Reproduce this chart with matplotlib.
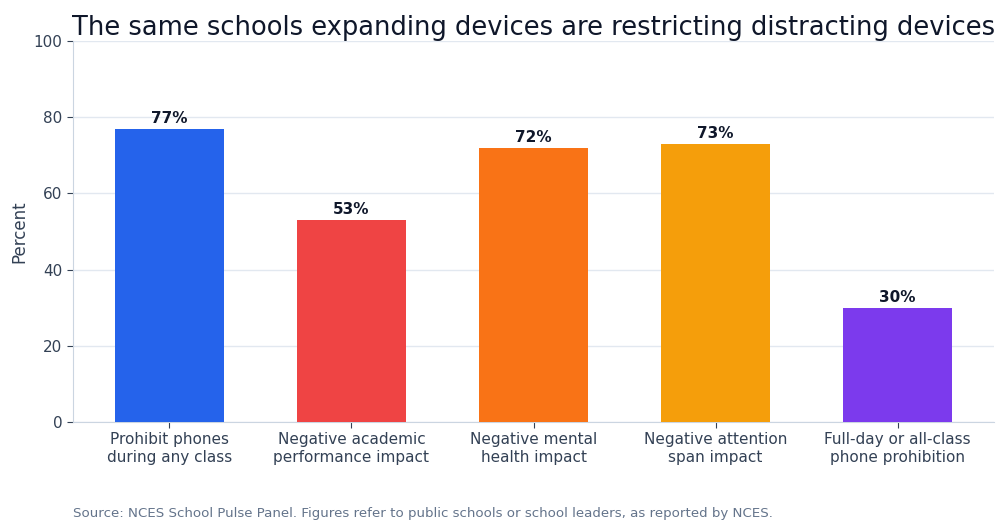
import matplotlib
matplotlib.use("Agg")
from matplotlib import pyplot as plt

categories = [
    "Prohibit phones\nduring any class",
    "Negative academic\nperformance impact",
    "Negative mental\nhealth impact",
    "Negative attention\nspan impact",
    "Full-day or all-class\nphone prohibition",
]
values = [77, 53, 72, 73, 30]
bar_colors = ["#2563eb", "#ef4444", "#f97316", "#f59e0b", "#7c3aed"]
yticks = [0, 20, 40, 60, 80, 100]

fig = plt.figure(figsize=(10.05, 5.32), dpi=100)
ax = fig.add_axes([73 / 1005, 1 - 422 / 532, 921 / 1005, 381 / 532])

x = list(range(len(categories)))
ax.bar(x, values, width=0.6, color=bar_colors, zorder=3)

for xi, v in zip(x, values):
    ax.text(xi, v + 0.8, f"{v}%", ha="center", va="bottom",
            fontsize=11, fontweight="bold", color="#0f172a")

ax.set_xlim(-0.53, 4.53)
ax.set_ylim(0, 100)
ax.set_yticks(yticks)
ax.set_xticks(x, labels=categories)
ax.tick_params(axis="both", labelsize=11, colors="#334155", length=4)
ax.grid(axis="y", color="#e2e8f0", linewidth=1, zorder=0)
ax.set_ylabel("Percent", fontsize=12, color="#334155", labelpad=4)

for side in ("top", "right"):
    ax.spines[side].set_visible(False)
for side in ("left", "bottom"):
    ax.spines[side].set_color("#cbd5e1")

ax.set_title("The same schools expanding devices are restricting distracting devices",
             fontsize=18.5, color="#0f172a", pad=4)

fig.text(73 / 1005, 1 - 514 / 532,
         "Source: NCES School Pulse Panel. Figures refer to public schools or school leaders, as reported by NCES.",
         fontsize=9.6, color="#64748b", va="center", ha="left")

fig.savefig("out.png", dpi=100)
